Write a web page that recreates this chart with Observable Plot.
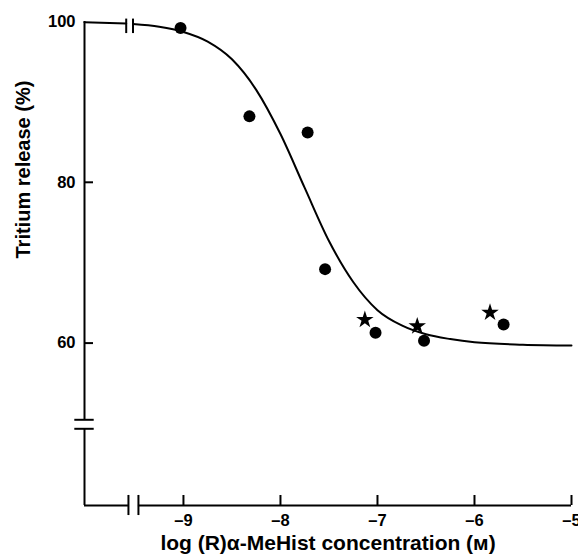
<!DOCTYPE html>
<html>
<head>
<meta charset="utf-8">
<script src="https://cdn.jsdelivr.net/npm/d3@7"></script>
<script src="https://cdn.jsdelivr.net/npm/@observablehq/plot@0.6"></script>
<style>
  html, body { margin: 0; padding: 0; background: #fff; }
  #chart svg { display: block; }
</style>
</head>
<body>
<div id="chart"></div>
<script>
// Data
const circleX = [-9.03, -8.32, -7.72, -7.54, -7.02, -6.52, -5.70];
const circleY = [99.2, 88.2, 86.2, 69.2, 61.3, 60.3, 62.3];
const starX = [-7.13, -6.59, -5.84];
const starY = [62.9, 62.1, 63.8];

// Fitted curve
const curveX = [-10.02, -9.59, -9.52, -9.25, -9.0, -8.75, -8.5, -8.25, -8.0, -7.75, -7.5, -7.25, -7.0, -6.75, -6.5, -6.25, -6.0, -5.5, -5.0];
const curveY = [99.9, 99.75, 99.68, 99.34, 98.7, 97.5, 95.3, 91.5, 86.0, 79.3, 72.7, 67.6, 64.1, 62.2, 61.1, 60.5, 60.1, 59.8, 59.7];

const xTicks = [-9, -8, -7, -6, -5];
const yTicks = [60, 80, 100];
const xDomain = [-10.02, -5];
const yDomain = [39.8, 100];
const xBreak = [-9.567, -9.464];
const yBreak = [50.46, 49.34];
const curveBreak = [-9.59, -9.52];

const xLabel = "log (R)\u03b1-MeHist concentration (\u1d0d)";
const yLabel = "Tritium release (%)";

const circles = circleX.map((x, i) => ({x, y: circleY[i]}));
const stars = starX.map((x, i) => ({x, y: starY[i]}));
const curve = curveX.map((x, i) => ({x, y: curveY[i], seg: x < curveBreak[0] + 0.01 ? 0 : 1}));

const x0 = xDomain[0], y0 = yDomain[0];

const plot = Plot.plot({
  width: 578,
  height: 559,
  marginLeft: 84,
  marginRight: 7,
  marginTop: 21,
  marginBottom: 54,
  style: {fontFamily: "'Liberation Sans', Arial, sans-serif", fontWeight: "bold", fontSize: "16px", color: "#000", background: "#fff"},
  x: {domain: xDomain},
  y: {domain: yDomain},
  marks: [
    // axis lines with breaks
    Plot.ruleY([{a: x0, b: xBreak[0]}, {a: xBreak[1], b: xDomain[1]}], {y: y0, x1: "a", x2: "b", strokeWidth: 2}),
    Plot.ruleX([{a: y0, b: yBreak[1]}, {a: yBreak[0], b: yDomain[1]}], {x: x0, y1: "a", y2: "b", strokeWidth: 2}),
    // break marks
    Plot.ruleX(xBreak, {x: d => d, y1: y0 - 1.25, y2: y0 + 1.25, strokeWidth: 2}),
    Plot.ruleY(yBreak, {y: d => d, x1: x0 - 0.1, x2: x0 + 0.1, strokeWidth: 2}),
    Plot.ruleX(curveBreak, {x: d => d, y1: 98.5, y2: 100.3, strokeWidth: 2}),
    // axes
    Plot.axisX({ticks: xTicks, tickSize: -10, tickFormat: d => "\u2013" + Math.abs(d), label: null, strokeWidth: 2, fontSize: 16.5}),
    Plot.axisY({ticks: yTicks.slice(0, 2), tickSize: -9, label: null, strokeWidth: 2, fontSize: 16.5}),
    Plot.axisY({ticks: [100], tickSize: 0, tickPadding: 9, label: null, fontSize: 16.5}),
    // curve
    Plot.line(curve, {x: "x", y: "y", z: "seg", curve: "monotone-x", strokeWidth: 2, stroke: "#000"}),
    // points
    Plot.dot(circles, {x: "x", y: "y", r: 6, fill: "#000", stroke: null}),
    Plot.dot(stars, {x: "x", y: "y", r: 5.5, symbol: "star", fill: "#000", stroke: null}),
    // axis titles
    Plot.text([xLabel], {frameAnchor: "bottom", dy: 44, fontSize: 21, fontWeight: "bold"}),
    Plot.text([yLabel], {frameAnchor: "left", dx: -61, dy: -5, rotate: -90, fontSize: 20, fontWeight: "bold"})
  ]
});

document.getElementById("chart").appendChild(plot);
</script>
</body>
</html>
